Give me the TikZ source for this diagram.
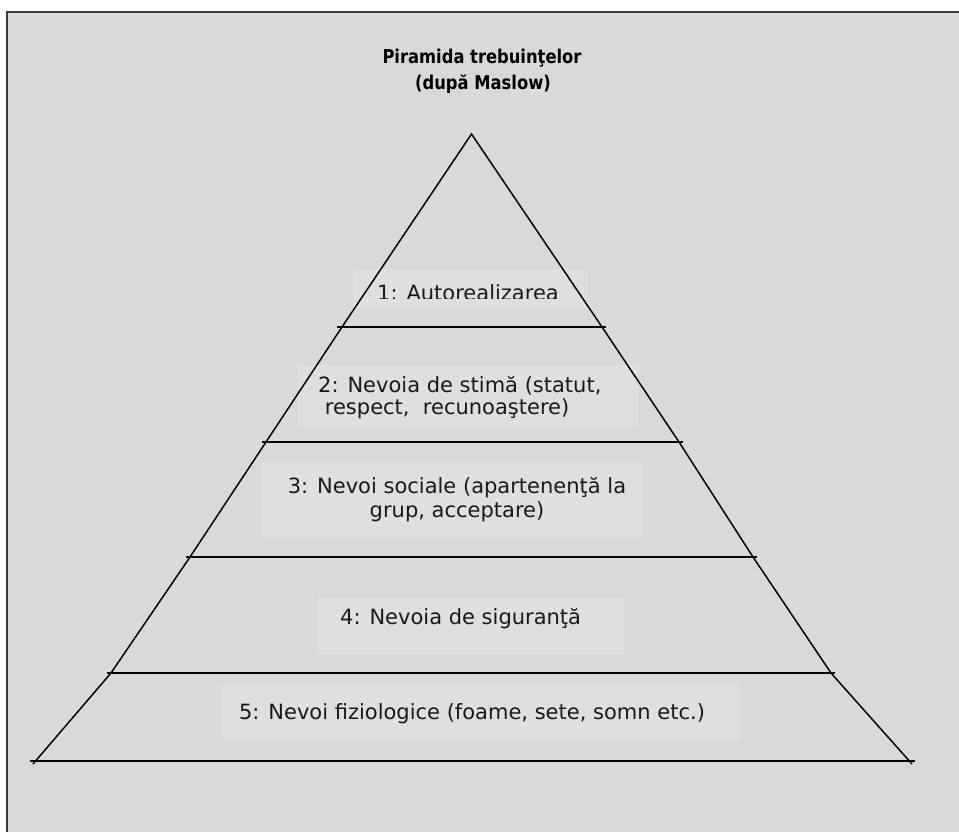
\documentclass[tikz,border=0pt]{standalone}
\usepackage{fontspec}
\setmainfont{DejaVu Sans}
\newfontfamily\headfont[FakeStretch=0.86]{DejaVu Sans}
\begin{document}
\begin{tikzpicture}[x=1pt,y=-1pt,
  panel/.style={fill=panelgray},
  framebox/.style={fill=boxgray},
  edge/.style={line width=1.5pt,black},
  tier/.style={line width=2pt,black},
  lbl/.style={inner sep=0pt,anchor=base west,font=\fontsize{21}{22}\selectfont,text=black!90},
  heading/.style={inner sep=0pt,anchor=base,font=\headfont\fontsize{19}{22}\selectfont\bfseries,text=black}]
\definecolor{panelgray}{HTML}{D9D9D9}
\definecolor{boxgray}{HTML}{DFDFDF}
\definecolor{framegray}{HTML}{3A3A3A}
\useasboundingbox (0,0) rectangle (959,832);
% page background and frame
\fill[white] (0,0) rectangle (959,832);
\fill[panelgray] (7,12) rectangle (959,832);
\draw[framegray,line width=2pt] (7,832) -- (7,12) -- (959,12);

% title
\node[heading] (t1) at (482,64) {Piramida trebuinţelor};
\node[heading] (t2) at (483,90) {(după Maslow)};

% text frames behind the labels
\fill[framebox] (353,269) rectangle (587,308);
\fill[framebox] (298,365) rectangle (638,428);
\fill[framebox] (262,463) rectangle (642,537);
\fill[framebox] (318,597) rectangle (624,655);
\fill[framebox] (222,684) rectangle (740,741);

% pyramid corners
\coordinate (apex) at (471.5,134);
\coordinate (l1) at (342,327); \coordinate (r1) at (602,327);
\coordinate (l2) at (266,442); \coordinate (r2) at (679,442);
\coordinate (l3) at (190,557); \coordinate (r3) at (753,557);
\coordinate (l4) at (111,673); \coordinate (r4) at (831,673);
\coordinate (l5) at (33,764);  \coordinate (r5) at (912,764);

\draw[edge,line join=miter] (l5) -- (l4) -- (l3) -- (l2) -- (l1) -- (apex) -- (r1) -- (r2) -- (r3) -- (r4) -- (r5);

% level separators
\draw[tier] ([xshift=-5pt]l1) -- ([xshift=4pt]r1);
\draw[tier] ([xshift=-4pt]l2) -- ([xshift=4pt]r2);
\draw[tier] ([xshift=-4pt]l3) -- ([xshift=4pt]r3);
\draw[tier] ([xshift=-4pt]l4) -- ([xshift=4pt]r4);
\draw[tier] ([xshift=-3pt,yshift=3pt]l5) -- ([xshift=3pt,yshift=3pt]r5);

% labels
\begin{scope}
  \clip (353,269) rectangle (587,298);
  \node[lbl] (n1) at (377,300) {1: Autorealizarea};
\end{scope}
\node[lbl] (n2a) at (318,392) {2: Nevoia de stimă (statut,};
\node[lbl] (n2b) at (318,414) {\ respect,\ \ recunoaştere)};
\node[lbl,anchor=base] (n3a) at (457,493) {3: Nevoi sociale (apartenenţă la};
\node[lbl,anchor=base] (n3b) at (457,517) {grup, acceptare)};
\node[lbl] (n4) at (340,624) {4: Nevoia de siguranţă};
\node[lbl,anchor=base] (n5) at (472,719) {5: Nevoi fiziologice (foame, sete, somn etc.)};
\end{tikzpicture}
\end{document}
